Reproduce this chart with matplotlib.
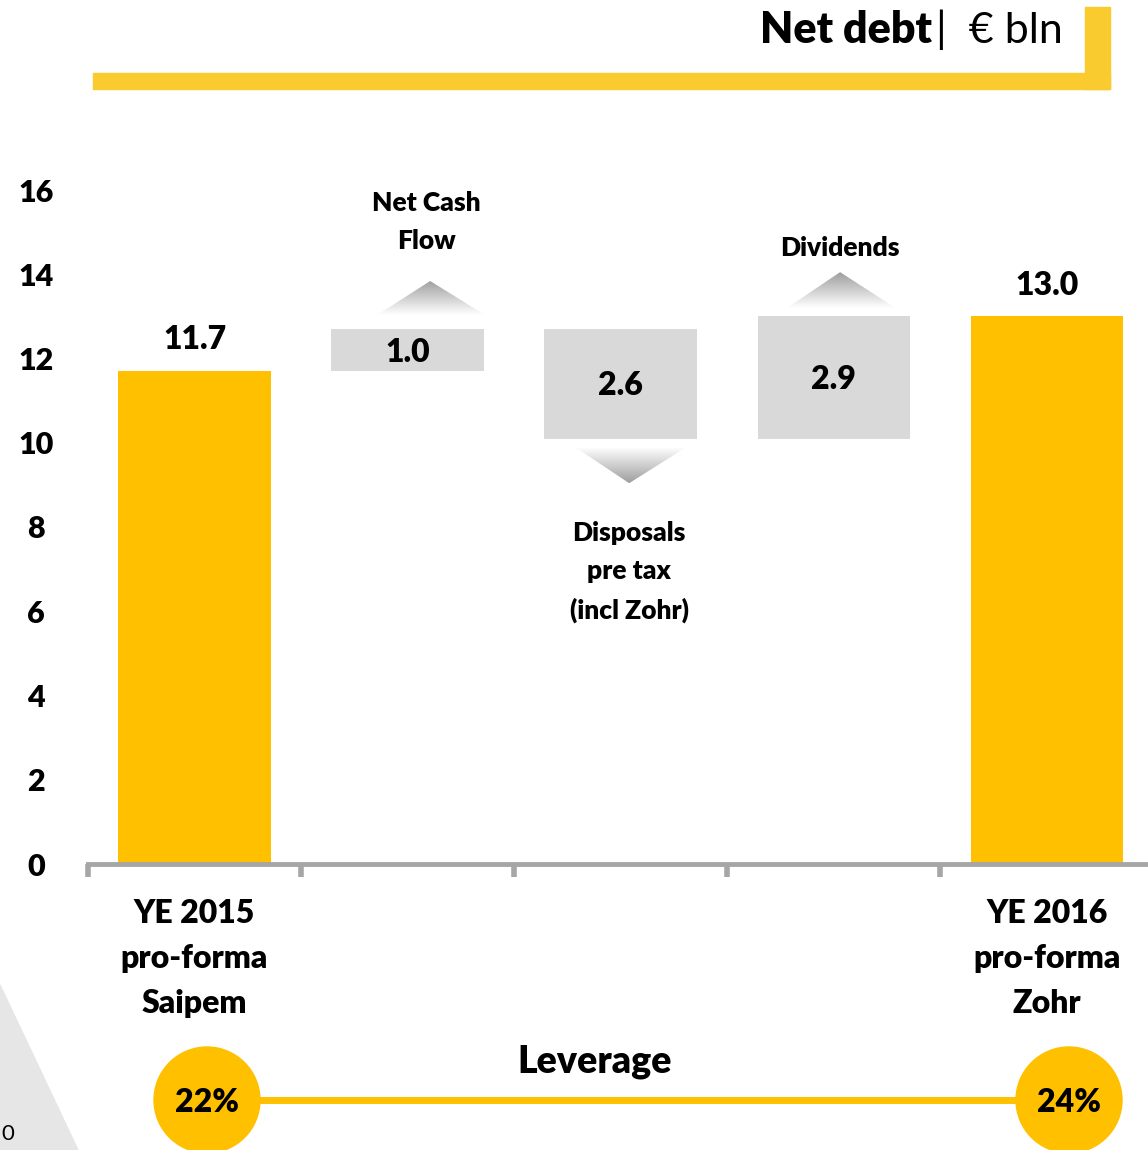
import numpy as np
import matplotlib
matplotlib.use("Agg")
import matplotlib.pyplot as plt
from matplotlib.patches import Polygon, Rectangle, Circle
from matplotlib.colors import LinearSegmentedColormap

plt.rcParams["font.family"] = ["Lato", "DejaVu Sans"]

# data
categories = ["YE 2015\npro-forma\nSaipem", "", "", "", "YE 2016\npro-forma\nZohr"]
steps = [11.7, 1.0, -2.6, 2.9, 13.0]
is_total = [True, False, False, False, True]
step_names = ["", "Net Cash\nFlow", "Disposals\npre tax\n(incl Zohr)", "Dividends", ""]
leverage = ["22%", "24%"]
yticks = [0, 2, 4, 6, 8, 10, 12, 14, 16]

GOLD = "#FFC000"
GREY_BOX = "#D9D9D9"
BOLD = "heavy"
W, H = 1148, 1150

fig = plt.figure(figsize=(W / 100, H / 100), dpi=100)


def fx(px):
    return px / W


def fy(py):
    return 1 - py / H


ax = fig.add_axes([fx(88), fy(864), fx(1148) - fx(88), fy(190) - fy(864)])

# waterfall bottoms / heights
bottoms, heights = [], []
level = 0.0
for v, tot in zip(steps, is_total):
    if tot:
        bottoms.append(0.0)
        heights.append(v)
        level = v
    else:
        bottoms.append(min(level, level + v))
        heights.append(abs(v))
        level += v

x = np.arange(len(steps))
colors = [GOLD if t else GREY_BOX for t in is_total]
ax.bar(x, heights, bottom=bottoms, width=0.715, color=colors, zorder=2)

for i, (b, h, tot) in enumerate(zip(bottoms, heights, is_total)):
    txt = f"{abs(steps[i]):.1f}"
    if tot:
        ax.text(i, b + h + 0.4, txt, ha="center", va="bottom", fontsize=23,
                fontweight=BOLD)
    else:
        ax.text(i, b + h / 2 - 0.05, txt, ha="center", va="center", fontsize=23,
                fontweight=BOLD)

# gradient arrows (triangles) for the steps
grad = LinearSegmentedColormap.from_list("g", ["#FFFFFF", "#9E9E9E"])
arrows = {
    1: (0.857, 1.364, 1.106, 13.03, 13.84),
    2: (1.791, 2.303, 2.04, 9.88, 9.04),
    3: (2.78, 3.29, 3.03, 13.2, 14.05),
}
for i, (x0, x1, xa, yb, ya) in arrows.items():
    tri = Polygon([(x0, yb), (x1, yb), (xa, ya)], closed=True,
                  facecolor="none", edgecolor="none", transform=ax.transData)
    ax.add_patch(tri)
    g = np.linspace(0, 1, 100).reshape(-1, 1)
    lo, hi = min(yb, ya), max(yb, ya)
    origin = "lower" if ya > yb else "upper"
    im = ax.imshow(g, cmap=grad, extent=[x0, x1, lo, hi], origin=origin,
                   aspect="auto", zorder=1, interpolation="bicubic")
    im.set_clip_path(tri)

# step labels
ax.text(1.09, 14.5, step_names[1], ha="center", va="bottom", fontsize=19,
        fontweight=BOLD, linespacing=1.7)
ax.text(3.03, 14.35, step_names[3], ha="center", va="bottom", fontsize=19,
        fontweight=BOLD)
ax.text(2.04, 8.15, step_names[2], ha="center", va="top", fontsize=19,
        fontweight=BOLD, linespacing=1.7)

ax.set_xlim(-0.5, 4.475)
ax.set_ylim(0, 16)
ax.set_yticks(yticks)
ax.set_yticklabels([str(t) for t in yticks], fontsize=22, fontweight=BOLD)
ax.tick_params(axis="y", length=0, pad=37.5)
for lab in ax.get_yticklabels():
    lab.set_horizontalalignment("center")
ax.set_xticks(np.arange(-0.5, 4.5, 1.0))
ax.set_xticklabels([])
ax.tick_params(axis="x", length=9, width=4, color="#A6A6A6", direction="out")
for s in ["left", "right", "top"]:
    ax.spines[s].set_visible(False)
ax.spines["bottom"].set_color("#A6A6A6")
ax.spines["bottom"].set_linewidth(3.5)
ax.spines["bottom"].set_zorder(3)

# category labels under axis
for i, lab in enumerate(categories):
    if lab:
        ax.text(i, -0.82, lab, ha="center", va="top", fontsize=23,
                fontweight=BOLD, linespacing=1.68)

# title and frame
fig.text(fx(932), fy(30), "Net debt", ha="right", va="center", fontsize=31,
         fontweight=BOLD)
fig.text(fx(936), fy(30), "|  € bln", ha="left", va="center", fontsize=31)
fig.patches.append(Rectangle((fx(93), fy(89)), fx(1110) - fx(93), fy(73) - fy(89),
                             transform=fig.transFigure, color="#F9CB2F"))
fig.patches.append(Rectangle((fx(1085), fy(89)), fx(1110) - fx(1085), fy(7) - fy(89),
                             transform=fig.transFigure, color="#F9CB2F"))

# leverage row
fig.text(fx(595), fy(1062), "Leverage", ha="center", va="center", fontsize=27,
         fontweight=BOLD)
fig.add_artist(plt.Line2D([fx(240), fx(1040)], [fy(1100), fy(1100)],
                          color=GOLD, linewidth=5, transform=fig.transFigure))
for cx, lab in zip([207, 1069], leverage):
    fig.patches.append(Circle((cx, H - 1100), 53, transform=None, color=GOLD,
                              zorder=3))
    fig.text(fx(cx), fy(1102), lab, ha="center", va="center", fontsize=23,
             fontweight=BOLD, zorder=4)

# slide decoration bottom-left
fig.patches.append(Polygon([(fx(0), fy(985)), (fx(78), fy(1150)), (fx(0), fy(1150))],
                           closed=True, transform=fig.transFigure,
                           color="#E6E6E6", zorder=0))
fig.text(fx(1), fy(1134), "0", ha="left", va="center", fontsize=16)

fig.savefig("out.png", dpi=100)
